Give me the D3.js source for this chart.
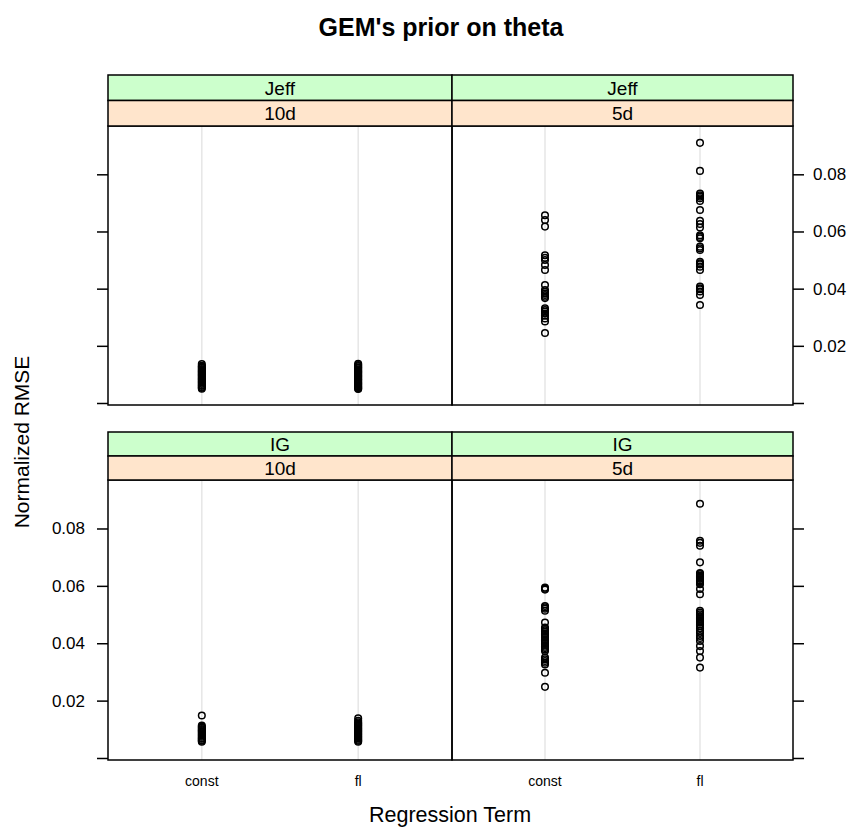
<!DOCTYPE html>
<html>
<head>
<meta charset="utf-8">
<script src="https://cdn.jsdelivr.net/npm/d3@7"></script>
<style>
  html, body { margin: 0; padding: 0; background: #fff; }
  svg { display: block; font-family: "Liberation Sans", Arial, sans-serif; }
</style>
</head>
<body>
<svg id="chart" width="856" height="829"></svg>
<script>
// Regression terms on the x axis
const terms = ["const", "fl"];
// Prior (outer strip) and dimension (inner strip) levels
const priors = ["Jeff", "IG"];
const dims = ["10d", "5d"];
// y-axis ticks
const yTicks = [0, 0.02, 0.04, 0.06, 0.08];
const yTickLabels = ["", "0.02", "0.04", "0.06", "0.08"];

// Normalized RMSE values, one array per panel and term
const jeff10Const = [0.0136, 0.0130, 0.0127, 0.0123, 0.0119, 0.0115, 0.0111, 0.0108, 0.0104, 0.0100, 0.0097, 0.0093, 0.0089, 0.0085, 0.0082, 0.0078, 0.0074, 0.0071, 0.0067, 0.0063, 0.0060, 0.0056, 0.0053, 0.0050];
const jeff10Fl = [0.0137, 0.0133, 0.0129, 0.0125, 0.0122, 0.0118, 0.0114, 0.0110, 0.0107, 0.0103, 0.0099, 0.0095, 0.0092, 0.0088, 0.0084, 0.0081, 0.0077, 0.0073, 0.0069, 0.0066, 0.0062, 0.0058, 0.0055, 0.0051, 0.0049];
const jeff5Const = [0.0657, 0.0640, 0.0617, 0.0517, 0.0508, 0.0500, 0.0483, 0.0465, 0.0413, 0.0395, 0.0389, 0.0383, 0.0378, 0.0372, 0.0367, 0.0331, 0.0325, 0.0320, 0.0313, 0.0305, 0.0296, 0.0285, 0.0245];
const jeff5Fl = [0.0910, 0.0812, 0.0733, 0.0727, 0.0722, 0.0716, 0.0707, 0.0675, 0.0637, 0.0626, 0.0614, 0.0587, 0.0581, 0.0576, 0.0547, 0.0541, 0.0535, 0.0494, 0.0489, 0.0485, 0.0477, 0.0465, 0.0407, 0.0401, 0.0398, 0.0390, 0.0378, 0.0343];
const ig10Const = [0.0148, 0.0113, 0.0109, 0.0105, 0.0101, 0.0097, 0.0094, 0.0090, 0.0086, 0.0082, 0.0078, 0.0074, 0.0070, 0.0067, 0.0063, 0.0060, 0.0057];
const ig10Fl = [0.0138, 0.0130, 0.0124, 0.0120, 0.0116, 0.0112, 0.0108, 0.0104, 0.0100, 0.0096, 0.0092, 0.0088, 0.0084, 0.0080, 0.0076, 0.0072, 0.0068, 0.0064, 0.0060, 0.0057];
const ig5Const = [0.0594, 0.0590, 0.0587, 0.0530, 0.0525, 0.0520, 0.0513, 0.0472, 0.0455, 0.0450, 0.0445, 0.0440, 0.0435, 0.0430, 0.0425, 0.0420, 0.0414, 0.0409, 0.0404, 0.0399, 0.0394, 0.0388, 0.0383, 0.0378, 0.0373, 0.0350, 0.0344, 0.0338, 0.0332, 0.0326, 0.0297, 0.0248];
const ig5Fl = [0.0886, 0.0757, 0.0750, 0.0740, 0.0682, 0.0645, 0.0641, 0.0636, 0.0632, 0.0628, 0.0624, 0.0619, 0.0615, 0.0610, 0.0606, 0.0589, 0.0571, 0.0513, 0.0507, 0.0501, 0.0495, 0.0490, 0.0485, 0.0481, 0.0476, 0.0472, 0.0466, 0.0460, 0.0452, 0.0443, 0.0436, 0.0425, 0.0418, 0.0408, 0.0390, 0.0373, 0.0350, 0.0315];

const panelData = {
  "Jeff|10d": [jeff10Const, jeff10Fl],
  "Jeff|5d": [jeff5Const, jeff5Fl],
  "IG|10d": [ig10Const, ig10Fl],
  "IG|5d": [ig5Const, ig5Fl]
};

const svg = d3.select("#chart");

// Panel grid geometry
const colX = [108, 452, 793];
const rows = [
  { prior: "Jeff", stripTop: 75, top: 126, bottom: 405, labelSide: "right" },
  { prior: "IG", stripTop: 432, top: 480, bottom: 760, labelSide: "left" }
];
const yDomain = [-0.0007, 0.0969];
const stripGreen = "#ccffcc";
const stripPeach = "#ffe5cc";

// Title
svg.append("text")
  .attr("x", 441).attr("y", 36)
  .attr("text-anchor", "middle")
  .style("font-weight", "bold").style("font-size", "25px")
  .text("GEM's prior on theta");

rows.forEach((row, ri) => {
  const y = d3.scaleLinear().domain(yDomain).range([row.bottom, row.top]);
  const stripH = (row.top - row.stripTop) / 2;

  dims.forEach((dim, ci) => {
    const x0 = colX[ci], x1 = colX[ci + 1];
    const x = d3.scaleLinear().domain([0.4, 2.6]).range([x0, x1]);
    const g = svg.append("g");

    // Light reference lines at each term
    terms.forEach((t, ti) => {
      g.append("line")
        .attr("x1", x(ti + 1)).attr("x2", x(ti + 1))
        .attr("y1", row.top).attr("y2", row.bottom)
        .attr("stroke", "#e6e6e6").attr("stroke-width", 1.5);
    });

    // Points
    const series = panelData[row.prior + "|" + dim];
    series.forEach((vals, ti) => {
      g.selectAll(null).data(vals).enter().append("circle")
        .attr("cx", x(ti + 1))
        .attr("cy", d => y(d))
        .attr("r", 3.3)
        .attr("fill", "none")
        .attr("stroke", "#000")
        .attr("stroke-width", 1.5);
    });

    // Panel frame
    g.append("rect")
      .attr("x", x0).attr("y", row.top)
      .attr("width", x1 - x0).attr("height", row.bottom - row.top)
      .attr("fill", "none").attr("stroke", "#000").attr("stroke-width", 1.5);

    // Strips: prior on top, dimension below
    [[row.prior, stripGreen], [dim, stripPeach]].forEach(([label, fill], si) => {
      const sy = row.stripTop + si * stripH;
      g.append("rect")
        .attr("x", x0).attr("y", sy)
        .attr("width", x1 - x0).attr("height", stripH)
        .attr("fill", fill).attr("stroke", "#000").attr("stroke-width", 1.5);
      g.append("text")
        .attr("x", (x0 + x1) / 2).attr("y", sy + stripH / 2)
        .attr("dy", "0.36em")
        .attr("text-anchor", "middle")
        .style("font-size", "19px")
        .text(label);
    });

    // x-axis labels under the bottom row
    if (ri === rows.length - 1) {
      terms.forEach((t, ti) => {
        g.append("text")
          .attr("x", x(ti + 1)).attr("y", row.bottom + 26)
          .attr("text-anchor", "middle")
          .style("font-size", "14px")
          .text(t);
      });
    }
  });

  // y axes: ticks on both outer sides, labels alternating
  const axisLeft = d3.axisLeft(y).tickValues(yTicks).tickSize(11).tickPadding(12)
    .tickFormat((d, i) => row.labelSide === "left" ? yTickLabels[i] : "");
  const axisRight = d3.axisRight(y).tickValues(yTicks).tickSize(11).tickPadding(9)
    .tickFormat((d, i) => row.labelSide === "right" ? yTickLabels[i] : "");

  [[axisLeft, colX[0]], [axisRight, colX[2]]].forEach(([ax, xp]) => {
    const ag = svg.append("g").attr("transform", `translate(${xp},0)`).call(ax);
    ag.select(".domain").remove();
    ag.selectAll(".tick line").attr("stroke", "#000").attr("stroke-width", 1.5);
    ag.selectAll(".tick text")
      .attr("fill", "#000")
      .style("font-size", "17px")
      .style("font-family", "\"Liberation Sans\", Arial, sans-serif");
  });
});

// Axis titles
svg.append("text")
  .attr("x", 450).attr("y", 822)
  .attr("text-anchor", "middle")
  .style("font-size", "21.5px")
  .text("Regression Term");

svg.append("text")
  .attr("transform", "translate(29,442) rotate(-90)")
  .attr("text-anchor", "middle")
  .style("font-size", "21px")
  .text("Normalized RMSE");
</script>
</body>
</html>
